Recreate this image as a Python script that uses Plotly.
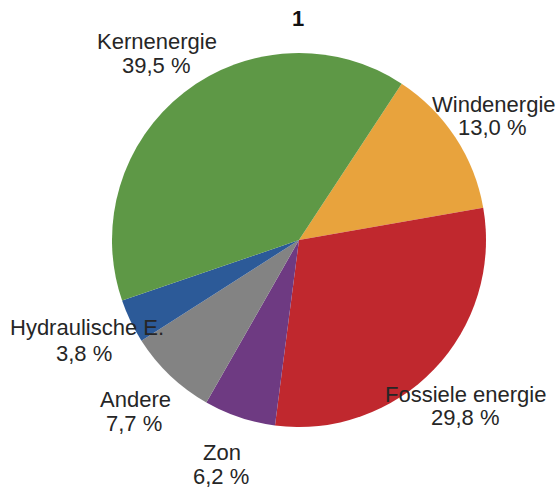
import plotly.graph_objects as go

labels = ["Windenergie", "Fossiele energie", "Zon", "Andere", "Hydraulische E.", "Kernenergie"]
values = [13.0, 29.8, 6.2, 7.7, 3.8, 39.5]
colors = ["#e8a33d", "#c0282e", "#6e3a82", "#838383", "#2c5a98", "#5e9846"]
title_text = "1"

W, H = 559, 495
# label anchor positions in pixels (center x, middle y of name line, value line)
label_pos = {
    "Windenergie": (494, 104, 492, 127),
    "Fossiele energie": (465, 394, 465, 417),
    "Zon": (222, 452, 221, 476),
    "Andere": (135, 399, 134, 423),
    "Hydraulische E.": (87, 327, 84, 353),
    "Kernenergie": (157, 42, 156, 66),
}

fig = go.Figure(go.Pie(
    labels=labels, values=values, sort=False, direction="clockwise",
    rotation=33.3, marker=dict(colors=colors, line=dict(width=0)),
    textinfo="none", hoverinfo="label+percent", showlegend=False,
    domain=dict(x=[112 / W, 486 / W], y=[1 - 428 / H, 1 - 52 / H]),
))

font = dict(family="Liberation Sans, Arial, sans-serif", size=22, color="#262626")
anns = []
for lab, val in zip(labels, values):
    x1, y1, x2, y2 = label_pos[lab]
    anns.append(dict(text=lab, x=x1 / W, y=1 - y1 / H, xref="paper", yref="paper",
                     xanchor="center", yanchor="middle", showarrow=False, font=font))
    anns.append(dict(text=f"{val:.1f}".replace(".", ",") + " %", x=x2 / W, y=1 - y2 / H,
                     xref="paper", yref="paper", xanchor="center", yanchor="middle",
                     showarrow=False, font=font))
anns.append(dict(text="<b>" + title_text + "</b>", x=298 / W, y=1 - 18 / H, xref="paper", yref="paper",
                 xanchor="center", yanchor="middle", showarrow=False,
                 font=dict(family="Liberation Sans, Arial, sans-serif", size=22, color="#111111")))

fig.update_layout(width=W, height=H, margin=dict(l=0, r=0, t=0, b=0),
                  paper_bgcolor="white", plot_bgcolor="white", annotations=anns)
fig.write_html("out.html", config={"displayModeBar": False},
               post_script="document.body.style.margin='0';document.body.style.overflow='hidden';")
